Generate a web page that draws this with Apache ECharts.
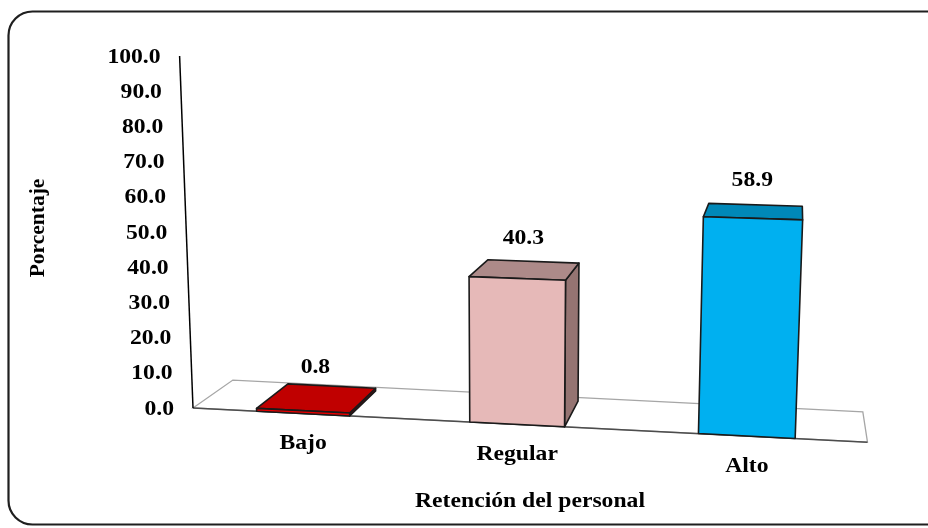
<!DOCTYPE html>
<html>
<head>
<meta charset="utf-8">
<script src="https://cdn.jsdelivr.net/npm/echarts@6/dist/echarts.min.js"></script>
<style>
  html, body { margin: 0; padding: 0; background: #ffffff; }
  #chart { width: 928px; height: 528px; }
</style>
</head>
<body>
<div id="chart"></div>
<script>
// Chart data
const categories = ['Bajo', 'Regular', 'Alto'];
const percentages = [0.8, 40.3, 58.9];
const yTicks = [0, 10, 20, 30, 40, 50, 60, 70, 80, 90, 100];
const xAxisTitle = 'Retención del personal';
const yAxisTitle = 'Porcentaje';

// Face colours for each column (front, top, right side)
const faceColors = [
  { front: '#E80000', top: '#C00000', side: '#8C0000' },
  { front: '#E6B9B8', top: '#AD8A89', side: '#957472' },
  { front: '#00B0F0', top: '#0088B8', side: '#006E96' }
];

const FONT = '"Liberation Serif", "Times New Roman", serif';
const FONT_SIZE = 21.5;
const TEXT_STRETCH = 1.1;

// Pseudo-3D projection settings (screen-space perspective of the plot box)
const VIEW = {
  pad: 9,            // floor starts a little left of the first category band
  curve: 0.0002,     // horizontal perspective stretch
  slope: 0.0506,     // floor front edge falls toward the right
  grow: 0.00009,     // vertical scale grows toward the right
  lean: 0.00012,     // verticals lean around a pivot
  leanPivot: 317,
  vx: 797, vy: -15,  // depth vanishing point
  floorDepth: 0.066,
  barDepth: 0.058,
  barFrac: 0.466
};

function makeProjector(params) {
  const cs = params.coordSys;
  const ox = cs.x - VIEW.pad;
  const oy = cs.y + cs.height;
  return {
    ox: ox, oy: oy,
    hx: function (fx) {
      const u = fx - ox;
      return ox + u * (1 + VIEW.curve * u);
    },
    scale: function (sx) { return 1 + (sx - ox) * VIEW.grow; },
    front: function (sx, h) {
      const hs = h * (1 + (sx - ox) * VIEW.grow);
      return [sx + (sx - ox - VIEW.leanPivot) * VIEW.lean * hs,
              oy + (sx - ox) * VIEW.slope - hs];
    },
    back: function (p, d) {
      return [p[0] + d * (VIEW.vx - p[0]), p[1] + d * (VIEW.vy - p[1])];
    }
  };
}

// bold serif label, slightly widened, anchored at (x, y)
function label(text, x, y, align) {
  return {
    type: 'text',
    x: x, y: y,
    scaleX: TEXT_STRETCH,
    style: {
      text: text, x: 0, y: 0,
      align: align, verticalAlign: 'middle',
      fontFamily: FONT, fontWeight: 'bold', fontSize: FONT_SIZE, fill: '#000000'
    }
  };
}

function renderFrame(params, api) {
  const P = makeProjector(params);
  const cs = params.coordSys;
  const children = [];
  const zeroY = api.coord([0, 0])[1];

  // floor
  const fl = P.front(P.ox, 0);
  const fr = P.front(P.hx(cs.x + cs.width), 0);
  const bl = P.back(fl, VIEW.floorDepth);
  const br = P.back(fr, VIEW.floorDepth);
  children.push({
    type: 'polygon',
    shape: { points: [fl, bl, br, fr] },
    style: { fill: '#ffffff', stroke: '#A6A6A6', lineWidth: 1.3 }
  });
  children.push({
    type: 'line',
    shape: { x1: fl[0], y1: fl[1], x2: fr[0], y2: fr[1] },
    style: { stroke: '#4D4D4D', lineWidth: 1.5 }
  });

  // value axis line
  const topH = zeroY - api.coord([0, yTicks[yTicks.length - 1]])[1];
  const at = P.front(P.ox, topH);
  children.push({
    type: 'line',
    shape: { x1: fl[0], y1: fl[1], x2: at[0], y2: at[1] },
    style: { stroke: '#000000', lineWidth: 1.5 }
  });

  // value tick labels
  yTicks.forEach(function (v) {
    const h = zeroY - api.coord([0, v])[1];
    const p = P.front(P.ox, h);
    children.push(label(v.toFixed(1), p[0] - 19, p[1] + 1, 'right'));
  });

  // category labels
  categories.forEach(function (c, i) {
    const sx = P.hx(api.coord([i, 0])[0]);
    const p = P.front(sx, 0);
    children.push(label(c, p[0], p[1] + 30, 'center'));
  });

  return { type: 'group', children: children };
}

function renderBar(params, api) {
  const P = makeProjector(params);
  const i = api.value(0);
  const v = api.value(1);
  const base = api.coord([i, 0]);
  const h = base[1] - api.coord([i, v])[1];
  const cx = P.hx(base[0]);
  const half = api.size([1, 0])[0] * VIEW.barFrac / 2 * P.scale(cx);
  const xl = cx - half, xr = cx + half;
  const flb = P.front(xl, 0), frb = P.front(xr, 0);
  const flt = P.front(xl, h), frt = P.front(xr, h);
  const blt = P.back(flt, VIEW.barDepth), brt = P.back(frt, VIEW.barDepth);
  const brb = P.back(frb, VIEW.barDepth);
  const col = faceColors[i];
  const edge = { stroke: '#1A1A1A', lineWidth: 1.6, lineJoin: 'round' };
  const children = [];

  if (brt[0] > frt[0] + 0.5) {
    children.push({
      type: 'polygon',
      shape: { points: [frb, frt, brt, brb] },
      style: Object.assign({ fill: col.side }, edge)
    });
  }
  children.push({
    type: 'polygon',
    shape: { points: [flt, blt, brt, frt] },
    style: Object.assign({ fill: col.top }, edge)
  });
  children.push({
    type: 'polygon',
    shape: { points: [flb, flt, frt, frb] },
    style: Object.assign({ fill: col.front }, edge)
  });

  // value label above the top face
  const tx = (flt[0] + frt[0] + blt[0] + brt[0]) / 4;
  const ty = (flt[1] + frt[1] + blt[1] + brt[1]) / 4;
  children.push(label(v.toFixed(1), tx - 2, ty - 31, 'center'));

  return { type: 'group', children: children };
}

const chart = echarts.init(document.getElementById('chart'), null, { renderer: 'canvas' });

chart.setOption({
  animation: false,
  backgroundColor: '#ffffff',
  grid: { left: 202, top: 56, width: 593, height: 352 },
  xAxis: { type: 'category', data: categories, show: false },
  yAxis: { type: 'value', min: 0, max: 100, interval: 10, show: false },
  graphic: [
    {
      type: 'rect',
      shape: { x: 8.5, y: 11.5, width: 945, height: 513, r: 24 },
      style: { fill: 'none', stroke: '#1F1F1F', lineWidth: 2.2 },
      silent: true
    },
    {
      type: 'text',
      x: 38, y: 228, rotation: Math.PI / 2,
      style: {
        text: yAxisTitle, align: 'center', verticalAlign: 'middle',
        fontFamily: FONT, fontWeight: 'bold', fontSize: FONT_SIZE, fill: '#000000'
      }
    },
    {
      type: 'text',
      x: 530, y: 501, scaleX: TEXT_STRETCH,
      style: {
        text: xAxisTitle, x: 0, y: 0, align: 'center', verticalAlign: 'middle',
        fontFamily: FONT, fontWeight: 'bold', fontSize: FONT_SIZE, fill: '#000000'
      }
    }
  ],
  series: [
    {
      type: 'custom',
      name: 'frame',
      clip: false,
      silent: true,
      z: 1,
      data: [[0, 0]],
      renderItem: renderFrame
    },
    {
      type: 'custom',
      name: 'Porcentaje',
      clip: false,
      z: 2,
      data: percentages.map(function (v, i) { return [i, v]; }),
      encode: { x: 0, y: 1 },
      renderItem: renderBar
    }
  ]
});
</script>
</body>
</html>
